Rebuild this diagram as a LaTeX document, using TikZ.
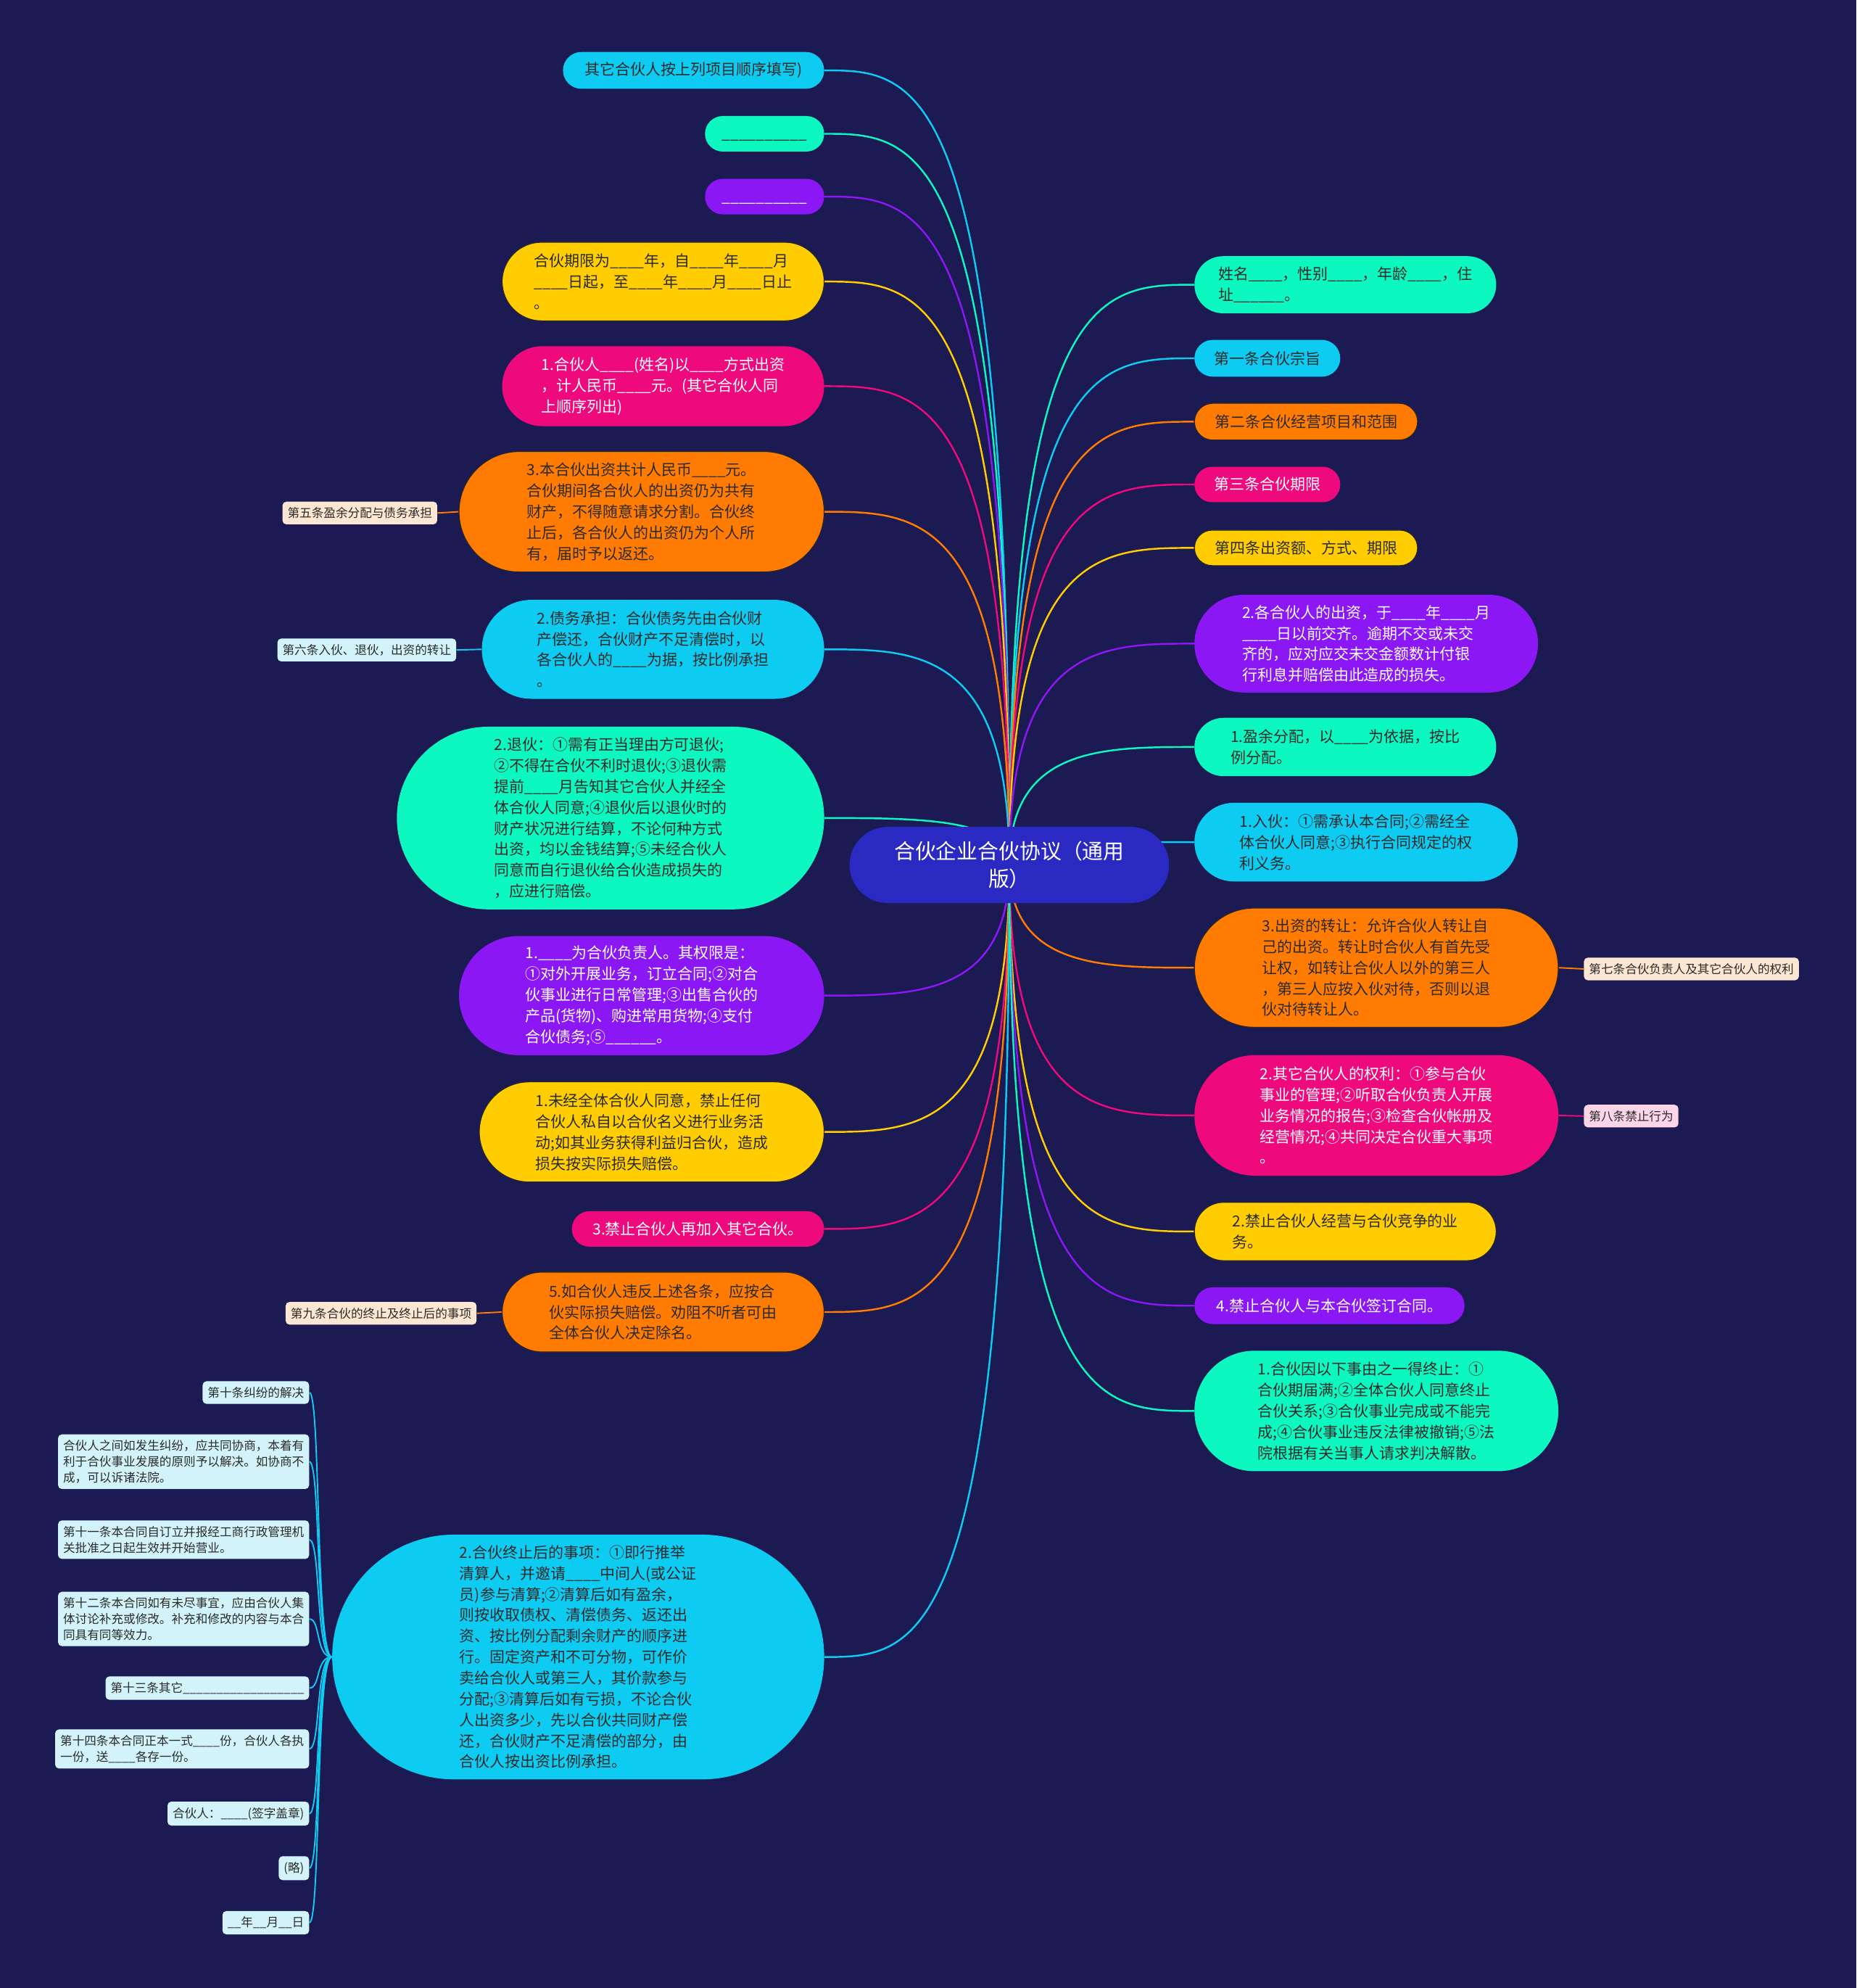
\documentclass[tikz,border=0pt]{standalone}
\usepackage{fontspec}
\setmainfont{Noto Sans CJK SC}
\usetikzlibrary{calc}
\definecolor{bgc}{HTML}{1B1A52}
\definecolor{ccyan}{HTML}{0ECBF2}
\definecolor{cteal}{HTML}{0DF7C1}
\definecolor{cpurp}{HTML}{8B17F4}
\definecolor{cpink}{HTML}{EE0A7C}
\definecolor{corng}{HTML}{FF7B02}
\definecolor{cyell}{HTML}{FFCD02}
\definecolor{ccent}{HTML}{2A2AC2}
\definecolor{dtext}{HTML}{2B2B2B}
\definecolor{lpeach}{HTML}{FDE6D2}
\definecolor{lcyan}{HTML}{D3F3FB}
\definecolor{lpink}{HTML}{FCD5E8}
\newcommand\blk{\_\_\_\_}
\pgfdeclarelayer{back}
\pgfdeclarelayer{edges}
\pgfsetlayers{back,edges,main}
\begin{document}
\begin{tikzpicture}[x=1pt,y=-1pt,
  pill/.style 2 args={shape=rectangle, inner sep=0pt, minimum width=#1pt, minimum height=#2pt, rounded corners=#2pt/2, align=left, font=\fontsize{12}{16.5}\selectfont},
  Cyan/.style={fill=ccyan, text=dtext},
  Teal/.style={fill=cteal, text=dtext},
  Purp/.style={fill=cpurp, text=white},
  Pink/.style={fill=cpink, text=white},
  Orng/.style={fill=corng, text=dtext, draw=black!85, line width=0.7pt},
  Yell/.style={fill=cyell, text=dtext, draw=black!85, line width=0.7pt},
  conn/.style={line width=1.4pt},
  lconn/.style={line width=1.1pt},
  lab/.style={fill=#1, text=dtext, rounded corners=3pt, inner xsep=4pt, inner ysep=4.5pt, align=left, font=\fontsize{9.5}{12.5}\selectfont}
]
\useasboundingbox (0,0) rectangle (1464,1567.5);
\begin{pgfonlayer}{back}
\fill[bgc] (0,0) rectangle (1464,1567.5);
\end{pgfonlayer}

% center
\node[shape=rectangle, fill=ccent, text=white, minimum width=252pt, minimum height=60pt, rounded corners=30pt, align=center, font=\fontsize{16.5}{22}\selectfont] (c) at (796,682) {合伙企业合伙协议（通用\\版）};

% left nodes
\node[pill={206}{29}, Cyan] (n1) at (547,55.5) {其它合伙人按上列项目顺序填写)};
\node[pill={94}{28}, Teal] (n2) at (603,105.5) {\vphantom{合}\_\_\_\_\_\_\_\_\_\_};
\node[pill={94}{28}, Purp] (n3) at (603,155) {\vphantom{合}\_\_\_\_\_\_\_\_\_\_};
\node[pill={254}{62}, Yell] (n4) at (523,222) {合伙期限为\blk 年，自\blk 年\blk 月\\\blk 日起，至\blk 年\blk 月\blk 日止\\。};
\node[pill={254}{63}, Pink] (n5) at (523,304.5) {1.合伙人\blk(姓名)以\blk 方式出资\\，计人民币\blk 元。(其它合伙人同\\上顺序列出)};
\node[pill={288}{95}, Orng] (n6) at (506,403.5) {3.本合伙出资共计人民币\blk 元。\\合伙期间各合伙人的出资仍为共有\\财产，不得随意请求分割。合伙终\\止后，各合伙人的出资仍为个人所\\有，届时予以返还。};
\node[pill={270}{78}, Cyan] (n7) at (515,512) {2.债务承担：合伙债务先由合伙财\\产偿还，合伙财产不足清偿时，以\\各合伙人的\blk 为据，按比例承担\\。};
\node[pill={337}{144}, Teal] (n8) at (481.5,645) {2.退伙：①需有正当理由方可退伙;\\②不得在合伙不利时退伙;③退伙需\\提前\blk 月告知其它合伙人并经全\\体合伙人同意;④退伙后以退伙时的\\财产状况进行结算，不论何种方式\\出资，均以金钱结算;⑤未经合伙人\\同意而自行退伙给合伙造成损失的\\，应进行赔偿。};
\node[pill={288}{94}, Purp] (n9) at (506,785) {1.\blk 为合伙负责人。其权限是：\\①对外开展业务，订立合同;②对合\\伙事业进行日常管理;③出售合伙的\\产品(货物)、购进常用货物;④支付\\合伙债务;⑤\_\_\_\_\_\_。};
\node[pill={272}{79}, Yell] (n10) at (514,892.5) {1.未经全体合伙人同意，禁止任何\\合伙人私自以合伙名义进行业务活\\动;如其业务获得利益归合伙，造成\\损失按实际损失赔偿。};
\node[pill={199}{28}, Pink] (n11) at (550.5,969) {3.禁止合伙人再加入其它合伙。};
\node[pill={254}{63}, Orng] (n12) at (523,1034.5) {5.如合伙人违反上述各条，应按合\\伙实际损失赔偿。劝阻不听者可由\\全体合伙人决定除名。};
\node[pill={388}{193}, Cyan] (n13) at (456,1306.5) {2.合伙终止后的事项：①即行推举\\清算人，并邀请\blk 中间人(或公证\\员)参与清算;②清算后如有盈余，\\则按收取债权、清偿债务、返还出\\资、按比例分配剩余财产的顺序进\\行。固定资产和不可分物，可作价\\卖给合伙人或第三人，其价款参与\\分配;③清算后如有亏损，不论合伙\\人出资多少，先以合伙共同财产偿\\还，合伙财产不足清偿的部分，由\\合伙人按出资比例承担。};

% right nodes
\node[pill={238}{45}, Teal] (r1) at (1061,224.5) {姓名\blk，性别\blk，年龄\blk，住\\址\_\_\_\_\_\_。};
\node[pill={115}{29}, Cyan] (r2) at (999.5,282.5) {第一条合伙宗旨};
\node[pill={176}{29}, Orng] (r3) at (1030,332.5) {第二条合伙经营项目和范围};
\node[pill={115}{28}, Pink] (r4) at (999.5,382) {第三条合伙期限};
\node[pill={176}{28}, Yell] (r5) at (1030,432) {第四条出资额、方式、期限};
\node[pill={271}{77}, Purp] (r6) at (1077.5,507.5) {2.各合伙人的出资，于\blk 年\blk 月\\\blk 日以前交齐。逾期不交或未交\\齐的，应对应交未交金额数计付银\\行利息并赔偿由此造成的损失。};
\node[pill={238}{46}, Teal] (r7) at (1061,589) {1.盈余分配，以\blk 为依据，按比\\例分配。};
\node[pill={255}{62}, Cyan] (r8) at (1069.5,664) {1.入伙：①需承认本合同;②需经全\\体合伙人同意;③执行合同规定的权\\利义务。};
\node[pill={287}{94}, Orng] (r9) at (1085.5,763) {3.出资的转让：允许合伙人转让自\\己的出资。转让时合伙人有首先受\\让权，如转让合伙人以外的第三人\\，第三人应按入伙对待，否则以退\\伙对待转让人。};
\node[pill={287}{95}, Pink] (r10) at (1085.5,879.5) {2.其它合伙人的权利：①参与合伙\\事业的管理;②听取合伙负责人开展\\业务情况的报告;③检查合伙帐册及\\经营情况;④共同决定合伙重大事项\\。};
\node[pill={238}{46}, Yell] (r11) at (1061,971) {2.禁止合伙人经营与合伙竞争的业\\务。};
\node[pill={213}{29}, Purp] (r12) at (1048.5,1029.5) {4.禁止合伙人与本合伙签订合同。};
\node[pill={287}{95}, Teal] (r13) at (1085.5,1112.5) {1.合伙因以下事由之一得终止：①\\合伙期届满;②全体合伙人同意终止\\合伙关系;③合伙事业完成或不能完\\成;④合伙事业违反法律被撤销;⑤法\\院根据有关当事人请求判决解散。};

% small labels
\node[lab=lpeach, anchor=east] (l5) at (345,404.5) {第五条盈余分配与债务承担};
\node[lab=lcyan, anchor=east] (l6) at (360,512.5) {第六条入伙、退伙，出资的转让};
\node[lab=lpeach, anchor=west] (l7) at (1249,764) {第七条合伙负责人及其它合伙人的权利};
\node[lab=lpink, anchor=west] (l8) at (1249,880) {第八条禁止行为};
\node[lab=lpeach, anchor=east] (l9) at (376,1035.5) {第九条合伙的终止及终止后的事项};

\node[lab=lcyan, anchor=east] (b1) at (244,1098) {第十条纠纷的解决};
\node[lab=lcyan, anchor=east] (b2) at (244,1152.5) {合伙人之间如发生纠纷，应共同协商，本着有\\利于合伙事业发展的原则予以解决。如协商不\\成，可以诉诸法院。};
\node[lab=lcyan, anchor=east] (b3) at (244,1214) {第十一条本合同自订立并报经工商行政管理机\\关批准之日起生效并开始营业。};
\node[lab=lcyan, anchor=east] (b4) at (244,1276.5) {第十二条本合同如有未尽事宜，应由合伙人集\\体讨论补充或修改。补充和修改的内容与本合\\同具有同等效力。};
\node[lab=lcyan, anchor=east] (b5) at (244,1331) {第十三条其它\_\_\_\_\_\_\_\_\_\_\_\_\_\_\_\_\_\_};
\node[lab=lcyan, anchor=east] (b6) at (244,1379) {第十四条本合同正本一式\blk 份，合伙人各执\\一份，送\blk 各存一份。};
\node[lab=lcyan, anchor=east] (b7) at (244,1430) {合伙人：\blk(签字盖章)};
\node[lab=lcyan, anchor=east] (b8) at (244,1473) {(略)};
\node[lab=lcyan, anchor=east] (b9) at (244,1516) {\_\_年\_\_月\_\_日};

\begin{pgfonlayer}{edges}
\foreach \n/\col in {n1/ccyan,n2/cteal,n3/cpurp,n4/cyell,n5/cpink,n6/corng,n7/ccyan,n8/cteal,n9/cpurp,n10/cyell,n11/cpink,n12/corng,n13/ccyan}
  \draw[conn,\col] (c.center) .. controls (c.center |- \n.east) and ($(c.center |- \n.east)!0.5!(\n.east)$) .. (\n.east);
\foreach \n/\col in {r1/cteal,r2/ccyan,r3/corng,r4/cpink,r5/cyell,r6/cpurp,r7/cteal,r8/ccyan,r9/corng,r10/cpink,r11/cyell,r12/cpurp,r13/cteal}
  \draw[conn,\col] (c.center) .. controls (c.center |- \n.west) and ($(c.center |- \n.west)!0.5!(\n.west)$) .. (\n.west);
\draw[lconn,corng] (n6.west) -- (l5.east);
\draw[lconn,ccyan] (n7.west) -- (l6.east);
\draw[lconn,corng] (n12.west) -- (l9.east);
\draw[lconn,corng] (r9.east) -- (l7.west);
\draw[lconn,cpink] (r10.east) -- (l8.west);
\foreach \b in {b1,b2,b3,b4,b5,b6,b7,b8,b9}
  \draw[lconn,ccyan] (n13.west) .. controls ($(n13.west)+(-13,0)$) and ($(\b.east)+(9,0)$) .. (\b.east);
\end{pgfonlayer}
\end{tikzpicture}
\end{document}
